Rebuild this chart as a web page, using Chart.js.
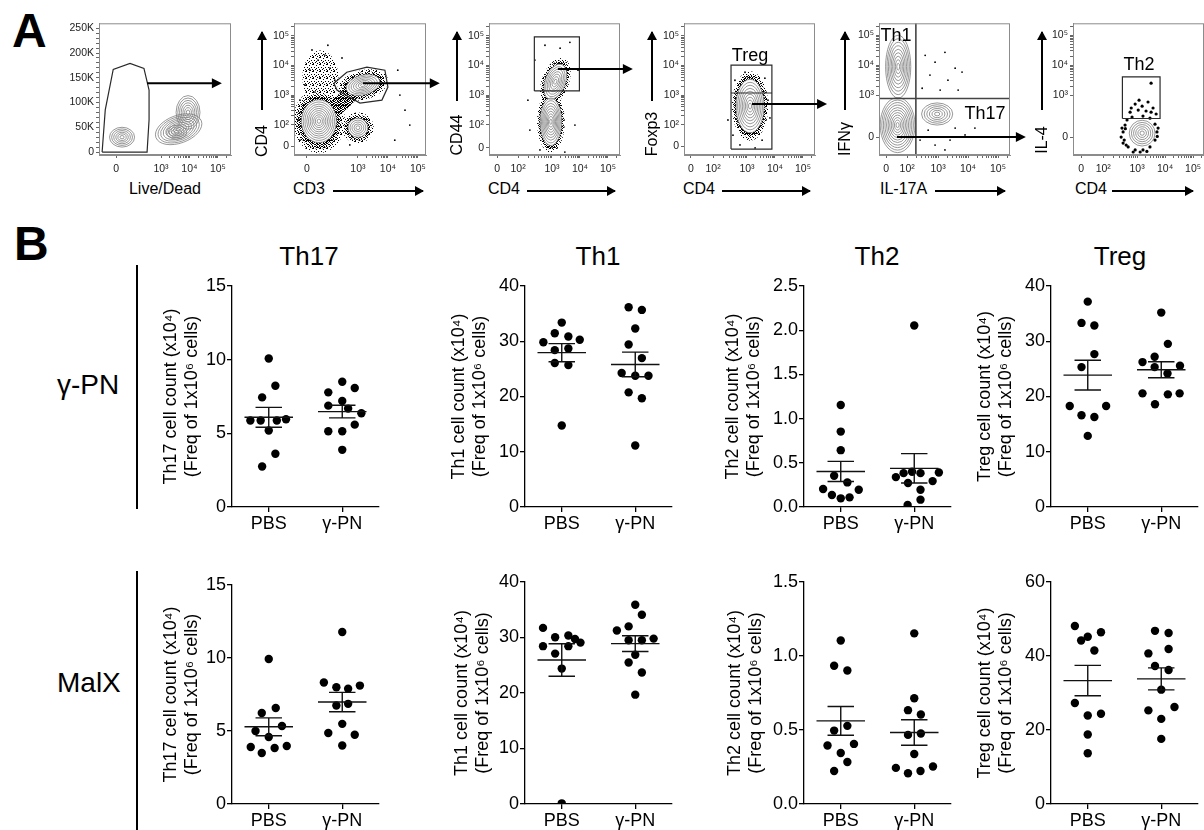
<!DOCTYPE html>
<html><head><meta charset="utf-8">
<script src="https://cdn.jsdelivr.net/npm/chart.js"></script>
<style>
html,body{margin:0;padding:0;background:#fff;}
body{width:1204px;height:830px;position:relative;overflow:hidden;font-family:"Liberation Sans",Arial,sans-serif;color:#000;}
canvas{position:absolute;}
.t{position:absolute;white-space:nowrap;z-index:5;}
.panel{font-weight:bold;font-size:48px;line-height:48px;}
.title{font-size:26px;line-height:26px;width:120px;text-align:center;}
.row{font-size:28px;line-height:28px;}
.vline{position:absolute;width:2px;background:#000;z-index:5;}
.xl{font-size:16px;line-height:18px;}
.yl{font-size:16px;line-height:18px;width:60px;height:18px;text-align:center;transform:rotate(-90deg);}
.gl{font-size:18px;line-height:18px;width:60px;text-align:center;}
.ha{position:absolute;height:2px;background:#000;z-index:5;}
.ha::after{content:"";position:absolute;right:-1px;top:-4px;border-left:9px solid #000;border-top:5px solid transparent;border-bottom:5px solid transparent;}
.va{position:absolute;width:2px;background:#000;z-index:5;}
.va::before{content:"";position:absolute;top:-1px;left:-4px;border-bottom:9px solid #000;border-left:5px solid transparent;border-right:5px solid transparent;}
</style></head>
<body>
<script>
// ===================== DATA =====================
const categories = ['PBS', 'γ-PN'];
const cellTypes = ['Th17', 'Th1', 'Th2', 'Treg'];
const rowLabels = ['γ-PN', 'MalX'];
const panelLabels = ['A', 'B'];

// Row 1 : γ-PN  (cell count x10^4)
const gpnTh17Pbs = [10.08, 8.23, 7.44, 5.87, 5.87, 5.87, 5.96, 5.19, 3.61, 2.75];
const gpnTh17Gpn = [8.50, 7.78, 8.08, 7.20, 6.88, 6.68, 6.36, 5.59, 5.14, 5.14, 3.88];
const gpnTh1Pbs  = [33.38, 31.46, 30.86, 29.83, 30.26, 28.39, 28.69, 26.05, 25.68, 14.74];
const gpnTh1Gpn  = [36.15, 35.67, 32.30, 29.41, 26.95, 24.24, 23.76, 23.76, 20.75, 19.67, 11.13];
const gpnTh2Pbs  = [1.154, 0.853, 0.643, 0.353, 0.278, 0.203, 0.195, 0.135, 0.098, 0.109];
const gpnTh2Gpn  = [2.053, 0.338, 0.383, 0.398, 0.383, 0.391, 0.293, 0.271, 0.195, 0.083, 0.023];
const gpnTregPbs = [37.17, 33.32, 32.84, 27.67, 25.32, 18.29, 18.29, 16.60, 16.30, 12.87];
const gpnTregGpn = [35.19, 29.53, 26.23, 27.19, 25.32, 25.56, 24.18, 20.57, 20.39, 20.57, 18.59];

// Row 2 : MalX
const malxTh17Pbs = [9.93, 6.58, 6.23, 5.34, 5.00, 4.59, 3.90, 3.49, 3.84, 3.97];
const malxTh17Gpn = [11.78, 8.32, 8.00, 7.89, 8.11, 6.86, 6.75, 5.49, 4.86, 4.74, 4.01];
const malxTh1Pbs  = [31.73, 30.05, 30.35, 29.74, 29.08, 28.44, 28.44, 27.10, 24.40, 0.12];
const malxTh1Gpn  = [35.9, 34.1, 31.25, 32.0, 29.5, 29.5, 29.8, 26.9, 25.5, 23.7, 19.7];
const malxTh2Pbs  = [1.105, 0.934, 0.902, 0.496, 0.528, 0.395, 0.406, 0.345, 0.284, 0.223];
const malxTh2Gpn  = [1.153, 0.715, 0.634, 0.605, 0.476, 0.467, 0.338, 0.244, 0.253, 0.208, 0.223];
const malxTregPbs = [48.1, 44.2, 45.2, 46.4, 41.5, 27.3, 23.9, 24.4, 18.8, 13.7];
const malxTregGpn = [46.8, 46.2, 41.9, 40.7, 37.3, 36.2, 30.9, 25.3, 26.2, 23.0, 17.6];

// y-axis tick settings
const yMaxRow1 = [15, 40, 2.5, 40];
const yStepRow1 = [5, 10, 0.5, 10];
const yMaxRow2 = [15, 40, 1.5, 60];
const yStepRow2 = [5, 10, 0.5, 20];
const yDecimals = [0, 0, 1, 0];

// Panel A: flow cytometry (axes in display decades; plot 1 y axis in K)
const flowXLabels = ['Live/Dead', 'CD3', 'CD4', 'CD4', 'IL-17A', 'CD4'];
const flowYLabels = ['', 'CD4', 'CD44', 'Foxp3', 'IFNγ', 'IL-4'];
const gateNames = ['Treg', 'Th1', 'Th17', 'Th2'];
const flowXTicks = [
  [[1.42,'0'],[3,'10³'],[4,'10⁴'],[5,'10⁵']],
  [[1.3,'0'],[3,'10³'],[4,'10⁴'],[5,'10⁵']],
  [[1.04,'0'],[1.79,'10²'],[3,'10³'],[4,'10⁴'],[5,'10⁵']],
  [[1.0,'0'],[1.79,'10²'],[3,'10³'],[4,'10⁴'],[5,'10⁵']],
  [[1.27,'0'],[1.97,'10²'],[3,'10³'],[4,'10⁴'],[5,'10⁵']],
  [[1.0,'0'],[1.79,'10²'],[3,'10³'],[4,'10⁴'],[5,'10⁵']]
];
const flowYTicks = [
  [[0,'0'],[50,'50K'],[100,'100K'],[150,'150K'],[200,'200K'],[250,'250K']],
  [[1.28,'0'],[2,'10²'],[3,'10³'],[4,'10⁴'],[5,'10⁵']],
  [[1.22,'0'],[2,'10²'],[3,'10³'],[4,'10⁴'],[5,'10⁵']],
  [[1.28,'0'],[2,'10²'],[3,'10³'],[4,'10⁴'],[5,'10⁵']],
  [[1.6,'0'],[3,'10³'],[4,'10⁴'],[5,'10⁵']],
  [[1.6,'0'],[3,'10³'],[4,'10⁴'],[5,'10⁵']]
];
const flowXRange = [[0.82,5.46],[0.87,5.27],[0.75,5.43],[0.75,5.43],[1.03,5.4],[0.71,5.39]];
const flowYRange = [[-6,260],[0.98,5.42],[0.98,5.42],[0.98,5.42],[1.0,5.4],[1.0,5.4]];

// populations: [x, y, halfWidth, halfHeight, tiltDeg, contourRings, dotHalo (or cloud density when rings = 0)]
const f1Pops = [[1.63,30,0.44,20,0,6,0],[3.62,46,0.85,28,-20,9,0],[3.95,80,0.42,34,0,7,0],[3.55,40,0.35,14,0,4,0]];
const f2Pops = [[1.75,3.6,0.6,0.9,0,0,1],[2.4,2.7,0.95,0.28,-40,0,3],[1.7,2.12,0.58,0.72,0,10,1.5],[3.0,1.9,0.33,0.32,0,5,1.6],[3.17,3.34,0.57,0.33,-15,7,1.5]];
const f3Pops = [[3.12,3.45,0.36,0.62,20,7,1.35],[2.96,2.1,0.38,0.8,0,9,1.3]];
const f4Pops = [[3.11,2.63,0.5,0.9,0,9,1.3]];
const f5Pops = [[1.67,3.95,0.42,1.05,0,9,0],[1.65,2.0,0.58,0.92,0,11,0],[2.97,2.37,0.52,0.37,0,6,0]];
const f6Pops = [[3.18,1.73,0.46,0.43,0,6,0]];

const f1Gate = [[0.93,0],[1.04,85],[1.32,167],[1.91,179],[2.40,169],[2.58,125],[2.58,65],[2.51,0],[0.93,0]];
const f2Gate = [[2.2,3.40],[2.63,3.77],[3.3,3.94],[3.9,3.84],[4.0,3.27],[3.8,2.83],[3.07,2.73],[2.3,3.17],[2.2,3.40]];
const f3Gate = [[2.37,3.14],[2.37,4.96],[3.98,4.96],[3.98,3.14],[2.37,3.14]];
const f4Gate = [[2.43,1.18],[2.43,4.01],[3.89,4.01],[3.89,1.18],[2.43,1.18],null,[2.43,3.07],[3.89,3.07]];
const f5Gate = [[2.26,1.0],[2.26,5.4],null,[1.03,2.89],[5.4,2.89]];
const f6Gate = [[2.475,2.22],[2.475,3.61],[3.82,3.61],[3.82,2.22],[2.475,2.22]];

const f1Arrow = [2.51,139,5.14,139];
const f2Arrow = [3.17,3.4,5.73,3.4];
const f3Arrow = [3.21,3.88,5.89,3.88];
const f4Arrow = [3.18,2.7,5.86,2.7];
const f5Arrow = [1.63,1.6,5.93,1.6];

const f2Dots = [[1.47,4.52],[1.67,4.18],[1.9,4.35],[1.4,3.84],[2.07,3.91],[1.73,3.57],[1.23,3.34],[2.23,3.5],[1.57,3.1],[1.07,2.83],[2.47,4.25],[2.0,4.68],[4.33,3.84],[4.57,2.49],[4.73,1.99],[4.23,1.48],[1.07,1.48],[1.0,2.16],[4.4,3.0],[2.73,1.32]];
const f3Dots = [[2.75,4.68],[3.64,4.78],[2.57,1.15],[3.46,1.08],[2.21,1.82],[3.82,1.99],[3.29,4.58],[2.39,4.18],[3.93,3.84],[2.14,2.83]];
const f4Dots = [[2.75,1.32],[3.29,1.22],[3.54,1.48],[2.57,3.5],[3.64,3.57],[2.93,3.77],[2.32,2.16],[3.82,2.23],[2.5,1.65],[3.75,2.83]];
const f5Dots = [[2.57,4.33],[2.9,4.1],[3.23,4.43],[3.57,3.9],[2.73,3.67],[3.33,3.5],[3.8,3.77],[2.47,3.23],[3.07,3.17],[3.67,3.17],[2.67,1.83],[3.57,1.9],[3.4,1.5],[3.9,1.67],[2.9,1.33],[2.4,1.5],[3.23,1.17],[4.23,1.9]];
const f6Dots = [[2.57,2.0],[2.5,1.77],[2.54,1.5],[2.68,1.27],[2.93,1.17],[3.21,1.17],[3.46,1.27],[3.64,1.5],[3.71,1.77],[3.64,2.03],[3.46,2.23],[3.21,2.3],[2.82,2.27],[2.64,2.17],[2.46,1.9],[2.43,1.6],[2.61,1.33],[3.11,1.1],[3.75,1.9],[2.75,2.43],[3.04,2.5],[3.32,2.47],[3.57,2.57],[2.93,2.7],[3.18,2.63],[3.39,2.77],[3.07,2.83],[3.5,2.43],[2.79,2.57],[3.68,2.37],[3.5,3.4],[2.5,1.4],[2.58,1.88],[3.35,1.12],[3.72,1.62],[2.86,1.1]];

// ===================== LAYOUT / STYLE =====================
const FONT = '"Liberation Sans", Arial, sans-serif';
Chart.defaults.font.family = FONT;
const bAxisX = [232, 525, 804, 1051];
const bYW = [[73, 78, 83, 78], [73, 75, 81, 78]];
const bTop = [[286, 286, 286, 286], [585, 582, 582, 582]];
const bBottom = [507, 804];
const bPlotW = 147;
const jitter = [
  [[0,0.09,-0.09,-0.25,-0.11,0.11,0.235,0,0.09,-0.09],[0,-0.19,0.17,0,-0.19,0.08,0.26,0.17,-0.19,0,0],
   [0,-0.095,0.09,-0.25,0.245,-0.095,0.09,-0.095,0.09,0],[-0.09,0.09,0,-0.09,0.09,-0.185,0,0.18,-0.09,0.09,0],
   [0,0,0,-0.09,0.09,-0.24,0.245,-0.12,0,0.12],[0,-0.25,-0.145,-0.03,0.085,0.335,0.25,-0.085,0.085,0.085,-0.09],
   [0,-0.085,0.09,0.09,-0.085,-0.245,0.25,-0.085,0.09,0],[0,0.09,-0.255,-0.09,-0.09,0.255,0.085,-0.255,0.09,0.25,-0.085]],
  [[0,0.095,-0.095,0.18,-0.18,0,-0.245,-0.095,0.08,0.245],[0,-0.25,-0.08,0.08,0.24,0.08,-0.08,0,-0.19,0.17,0],
   [-0.255,-0.09,0.09,0.18,0.255,-0.255,0.09,-0.09,0,0],[0,0.09,-0.25,-0.09,-0.09,0.09,0.25,0,-0.09,0.09,0],
   [0,-0.09,0.09,-0.09,0.09,-0.18,0.18,0,0.09,-0.09],[0,0,-0.085,0.09,0.09,-0.085,0,-0.25,0.255,-0.085,0.085],
   [-0.175,-0.09,0,0.18,0.09,-0.175,0,0.18,0,0],[-0.085,0.1,0.1,-0.175,-0.085,0.1,0,-0.175,0.18,0,0]]
];
const flowFrame = [[99,231],[294,426],[489,620],[684,815],[879,1010],[1073,1204]];
const stippleA = [[0,0],[3,1],[6,0],[1,3],[5,3],[2,5],[4,6],[0,6],[6,5],[3,4]];
const stippleB = [[2,0],[5,1],[0,2],[4,2],[2,3],[6,4],[1,5],[4,5],[3,6],[5,6]];
const stippleC = [[1,1],[4,0],[6,2],[3,2],[0,4],[5,5],[2,6],[1,6],[4,3],[6,1]];

// ===================== HELPERS =====================
function addCanvas(left, top, w, h) {
  const c = document.createElement('canvas');
  c.width = w; c.height = h;
  c.style.left = left + 'px'; c.style.top = top + 'px';
  c.style.width = w + 'px'; c.style.height = h + 'px';
  document.body.appendChild(c);
  return c;
}
function addEl(cls, left, top, text, extra) {
  const d = document.createElement('div');
  d.className = cls; d.style.left = left + 'px'; d.style.top = top + 'px';
  if (text != null) d.textContent = text;
  if (extra) Object.assign(d.style, extra);
  document.body.appendChild(d);
  return d;
}
function stats(a) {
  const n = a.length, m = a.reduce((s, v) => s + v, 0) / n;
  const sd = Math.sqrt(a.reduce((s, v) => s + (v - m) * (v - m), 0) / (n - 1));
  return [m, sd / Math.sqrt(n)];
}
function errData(c, a) {
  const [m, se] = stats(a);
  return [{x:c-0.33,y:m},{x:c+0.33,y:m},{x:c,y:null},
          {x:c,y:m-se},{x:c,y:m+se},{x:c,y:null},
          {x:c-0.18,y:m+se},{x:c+0.18,y:m+se},{x:c,y:null},
          {x:c-0.18,y:m-se},{x:c+0.18,y:m-se}];
}
function toPts(arr) {
  let last = 0;
  return arr.map(p => { if (p) { last = p[0]; return {x:p[0], y:p[1]}; } return {x:last, y:null}; });
}

// ===================== PANEL B =====================
const rowsData = [
  {pbs:[gpnTh17Pbs,gpnTh1Pbs,gpnTh2Pbs,gpnTregPbs], gpn:[gpnTh17Gpn,gpnTh1Gpn,gpnTh2Gpn,gpnTregGpn], ymax:yMaxRow1, ystep:yStepRow1},
  {pbs:[malxTh17Pbs,malxTh1Pbs,malxTh2Pbs,malxTregPbs], gpn:[malxTh17Gpn,malxTh1Gpn,malxTh2Gpn,malxTregGpn], ymax:yMaxRow2, ystep:yStepRow2}
];
const axisStyle = {grid:{drawOnChartArea:false, drawTicks:true, tickLength:5, color:'#000', lineWidth:1.3},
                   border:{display:true, color:'#000', width:1.3}};

function dotChart(r, c) {
  const yW = bYW[r][c], top = bTop[r][c];
  const L = bAxisX[c] - yW, T = top - 12, W = yW + bPlotW + 6, H = 12 + (bBottom[r] - top) + 30;
  const cv = addCanvas(L, T, W, H);
  const rd = rowsData[r];
  const pbs = rd.pbs[c], gpn = rd.gpn[c];
  const jp = jitter[r][2*c], jg = jitter[r][2*c+1];
  const ymax = rd.ymax[c], ystep = rd.ystep[c], dec = yDecimals[c];
  const lineDs = d => ({data:d, showLine:true, borderColor:'#111', borderWidth:1.4, pointRadius:0, pointHoverRadius:0, spanGaps:false});
  const dotDs = (vals, jit, cat) => ({data: vals.map((v, k) => ({x: cat + jit[k], y: v})), pointRadius:4.2, pointHoverRadius:4.2, backgroundColor:'#000', borderWidth:0});
  new Chart(cv, {
    type: 'scatter',
    data: {datasets: [lineDs(errData(1, pbs)), lineDs(errData(2, gpn)), dotDs(pbs, jp, 1), dotDs(gpn, jg, 2)]},
    options: {
      responsive:false, animation:false, devicePixelRatio:1, events:[],
      layout:{padding:{left:0, top:12, right:6, bottom:0}},
      plugins:{legend:{display:false}, tooltip:{enabled:false}},
      scales:{
        x:{type:'linear', min:0.5, max:2.5,
           afterBuildTicks: s => { s.ticks = [{value:1},{value:2}]; },
           afterFit: s => { s.height = 30; },
           ticks:{autoSkip:false, maxRotation:0, padding:1, color:'#000', font:{size:18},
                  callback: v => categories[Math.round(v) - 1]},
           ...axisStyle},
        y:{type:'linear', min:0, max:ymax,
           afterBuildTicks: s => { const t=[]; for (let k=0; k*ystep <= ymax + 1e-9; k++) t.push({value: Math.round(k*ystep*100)/100}); s.ticks = t; },
           afterFit: s => { s.width = yW; },
           ticks:{autoSkip:false, padding:1, color:'#000', font:{size:18}, callback: v => Number(v).toFixed(dec)},
           title:{display:true, text:[cellTypes[c] + ' cell count (x10⁴)', '(Freq of 1x10⁶ cells)'],
                  color:'#000', font:{size:18, lineHeight:1.15}, padding:{top:2, bottom:0}},
           ...axisStyle}
      }
    }
  });
}
for (let r = 0; r < 2; r++) for (let c = 0; c < 4; c++) dotChart(r, c);

// ===================== PANEL A =====================
const flowPops = [f1Pops, f2Pops, f3Pops, f4Pops, f5Pops, f6Pops];
const flowGates = [f1Gate, f2Gate, f3Gate, f4Gate, f5Gate, f6Gate];
const flowArrows = [f1Arrow, f2Arrow, f3Arrow, f4Arrow, f5Arrow, null];
const flowDots = [null, f2Dots, f3Dots, f4Dots, f5Dots, f6Dots];

function mkPattern(ctx, pts) {
  const c = document.createElement('canvas'); c.width = 7; c.height = 7;
  const g = c.getContext('2d'); g.fillStyle = '#000';
  pts.forEach(([a, b]) => g.fillRect(a, b, 1, 1));
  return ctx.createPattern(c, 'repeat');
}
function buildFlowTicks(list, max, linearMinor) {
  const t = list.map(([v, l]) => ({value:v, lab:l}));
  if (linearMinor) {
    for (let v = 10; v < max; v += 10) if (v % 50) t.push({value:v, lab:''});
  } else {
    list.forEach(([v, l], j) => {
      if (!l.startsWith('10')) return;
      const hi = j + 1 < list.length ? list[j+1][0] : v + 1;
      for (let k = 2; k < 10; k++) { const m = v + (hi - v) * Math.log10(k); if (m < max) t.push({value:m, lab:''}); }
    });
  }
  return t;
}
function flowPlugin(i) {
  return {
    id: 'flowDraw' + i,
    beforeDatasetsDraw(chart) {
      const {ctx, chartArea:a, scales:{x, y}} = chart;
      const pops = flowPops[i];
      const ell = (p, s) => {
        const cx = x.getPixelForValue(p[0]), cy = y.getPixelForValue(p[1]);
        const rx = Math.abs(x.getPixelForValue(p[0] + p[2]) - cx) * s;
        const ry = Math.abs(y.getPixelForValue(p[1] + p[3]) - cy) * s;
        ctx.beginPath(); ctx.ellipse(cx, cy, Math.max(rx, 0.5), Math.max(ry, 0.5), p[4] * Math.PI / 180, 0, 2 * Math.PI);
      };
      ctx.save();
      ctx.beginPath(); ctx.rect(a.left, a.top, a.right - a.left, a.bottom - a.top); ctx.clip();
      const pats = [mkPattern(ctx, stippleA), mkPattern(ctx, stippleB), mkPattern(ctx, stippleC)];
      pops.forEach(p => {
        if (p[5] === 0) { for (let k = 0; k < p[6]; k++) { ctx.fillStyle = pats[k]; ell(p, 1); ctx.fill(); } }
        else if (p[6] > 0) { const h = p[6]; [h, 1 + (h - 1) * 0.6, 1 + (h - 1) * 0.3].forEach((s, k) => { ctx.fillStyle = pats[k]; ell(p, s); ctx.fill(); }); }
      });
      pops.forEach(p => { if (p[6] > 0 && p[5] > 0) { ctx.fillStyle = '#fff'; ell(p, 1); ctx.fill(); } });
      ctx.strokeStyle = '#7d7d7d'; ctx.lineWidth = 0.8;
      pops.forEach(p => { for (let k = 1; k <= p[5]; k++) { ell(p, k / p[5]); ctx.stroke(); } });
      ctx.restore();
    },
    afterDatasetsDraw(chart) {
      const {ctx, chartArea:a, scales:{x, y}} = chart;
      ctx.save();
      ctx.strokeStyle = '#8c8c8c'; ctx.lineWidth = 1;
      ctx.strokeRect(a.left + 0.5, a.top + 0.5, a.right - a.left - 1, a.bottom - a.top - 1);
      const ar = flowArrows[i];
      if (ar) {
        const x1 = x.getPixelForValue(ar[0]), y1 = y.getPixelForValue(ar[1]);
        const x2 = x.getPixelForValue(ar[2]), y2 = y.getPixelForValue(ar[3]);
        ctx.strokeStyle = '#000'; ctx.lineWidth = 2;
        ctx.beginPath(); ctx.moveTo(x1, y1); ctx.lineTo(x2 - 8, y2); ctx.stroke();
        ctx.fillStyle = '#000'; ctx.beginPath(); ctx.moveTo(x2, y2); ctx.lineTo(x2 - 10, y2 - 5); ctx.lineTo(x2 - 10, y2 + 5); ctx.closePath(); ctx.fill();
      }
      ctx.restore();
    }
  };
}
function flowChart(i) {
  const [fl, fr] = flowFrame[i];
  const cv = addCanvas(fl - 30, 15, 30 + (fr - fl) + 22, 165);
  const ds = [];
  if (flowGates[i]) ds.push({data: toPts(flowGates[i]), showLine:true, spanGaps:false, borderColor: i === 4 ? '#444' : '#2a2a2a', borderWidth: i === 4 ? 1.6 : 1.2, pointRadius:0, pointHoverRadius:0, fill:false});
  if (flowDots[i]) ds.push({data: toPts(flowDots[i]), pointRadius: i === 5 ? 1.6 : 0.9, pointHoverRadius:0, backgroundColor:'#000', borderWidth:0});
  const tickFont = {size:10.5};
  const flowAxis = {grid:{drawOnChartArea:false, drawTicks:true, tickLength:3, color:'#666', lineWidth:1},
                    border:{display:true, color:'#8c8c8c', width:1}};
  new Chart(cv, {
    type:'scatter',
    data:{datasets: ds},
    options:{
      responsive:false, animation:false, devicePixelRatio:1, events:[],
      layout:{padding:{left:0, top:8, right:22, bottom:0}},
      plugins:{legend:{display:false}, tooltip:{enabled:false}},
      scales:{
        x:{type:'linear', min:flowXRange[i][0], max:flowXRange[i][1],
           afterFit: s => { s.height = 25; },
           afterBuildTicks: s => { s.ticks = buildFlowTicks(flowXTicks[i], s.max, false); },
           ticks:{autoSkip:false, maxRotation:0, padding:5, color:'#222', font:tickFont, callback:(v, k, t) => t[k].lab},
           ...flowAxis},
        y:{type:'linear', min:flowYRange[i][0], max:flowYRange[i][1],
           afterFit: s => { s.width = 30; },
           afterBuildTicks: s => { s.ticks = buildFlowTicks(flowYTicks[i], s.max, i === 0); },
           ticks:{autoSkip:false, padding:2, color:'#222', font:tickFont, callback:(v, k, t) => t[k].lab},
           ...flowAxis}
      }
    },
    plugins:[flowPlugin(i)]
  });
}
for (let i = 0; i < 6; i++) flowChart(i);

// ===================== TEXT & DECORATIONS =====================
addEl('t panel', 12, 7, panelLabels[0]);
addEl('t panel', 14, 220, panelLabels[1]);
const titleCx = [309, 598, 877, 1120];
cellTypes.forEach((t, c) => addEl('t title', titleCx[c] - 60, 243, t));
addEl('t row', 57, 371, rowLabels[0]);
addEl('t row', 57, 669, rowLabels[1]);
addEl('vline', 136, 265, null, {height:'244px'});
addEl('vline', 136, 571, null, {height:'259px'});

// flow axis labels
addEl('t xl', 115, 180, flowXLabels[0], {width:'100px', textAlign:'center'});
const xlLeft = [0, 293, 488, 683, 880, 1075];
const xArrow = [null, [333, 90], [527, 88], [722, 88], [935, 70], [1112, 81]];
for (let i = 1; i < 6; i++) {
  addEl('t xl', xlLeft[i], 180, flowXLabels[i]);
  addEl('ha', xArrow[i][0], 190, null, {width: xArrow[i][1] + 'px'});
}
const ylC = [null, [262, 141], [457, 135], [652, 134], [845, 139], [1042, 140]];
const yArrowBottom = [null, 110, 101, 101, 110, 110];
for (let i = 1; i < 6; i++) {
  addEl('t yl', ylC[i][0] - 30, ylC[i][1] - 9, flowYLabels[i]);
  addEl('va', ylC[i][0] - 1, 32, null, {height: (yArrowBottom[i] - 32) + 'px'});
}
const gateLabelC = [[750, 55], [896, 35], [985, 113], [1139, 64]];
gateNames.forEach((g, k) => addEl('t gl', gateLabelC[k][0] - 30, gateLabelC[k][1] - 9, g));
</script>
</body></html>
